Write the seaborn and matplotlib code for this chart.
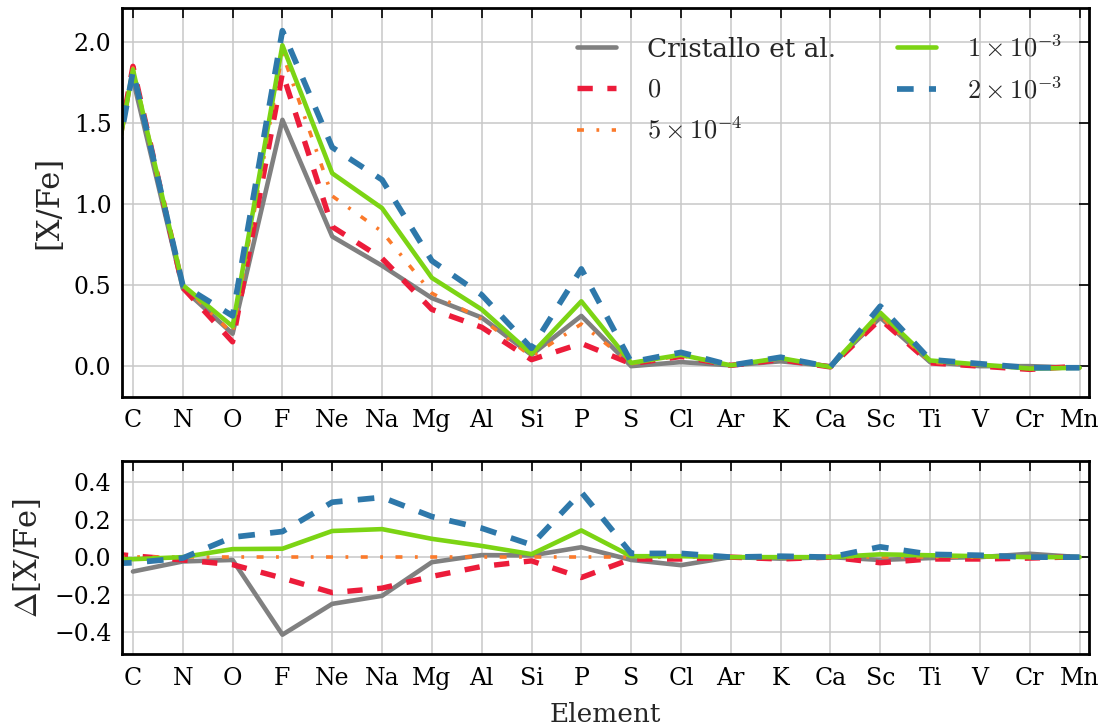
import numpy as np
import pandas as pd
import matplotlib
matplotlib.use("Agg")
import matplotlib.pyplot as plt
import seaborn as sns

# ---------------- data ----------------
elements = ["B", "C", "N", "O", "F", "Ne", "Na", "Mg", "Al", "Si", "P", "S",
            "Cl", "Ar", "K", "Ca", "Sc", "Ti", "V", "Cr", "Mn"]
tick_labels = elements[1:]

labels = ["Cristallo et al.", r"$0$", r"$5\times10^{-4}$",
          r"$1\times10^{-3}$", r"$2\times10^{-3}$"]

# [X/Fe]
xfe_cristallo = [np.nan, 1.77, 0.48, 0.20, 1.52, 0.80, 0.62, 0.42, 0.30, 0.07, 0.31,
                 0.00, 0.025, 0.005, 0.03, 0.00, 0.30, 0.025, 0.00, 0.00, -0.01]
xfe_0 = [0.15, 1.85, 0.485, 0.15, 1.81, 0.86, 0.665, 0.35, 0.24, 0.04, 0.14,
         0.015, 0.06, 0.005, 0.04, -0.005, 0.29, 0.02, 0.00, -0.02, 0.00]
xfe_5e4 = [0.15, 1.84, 0.50, 0.20, 1.93, 1.05, 0.83, 0.45, 0.29, 0.06, 0.26,
           0.015, 0.065, 0.005, 0.045, -0.005, 0.31, 0.025, 0.005, -0.015, -0.005]
xfe_1e3 = [0.15, 1.83, 0.50, 0.245, 1.98, 1.19, 0.975, 0.545, 0.35, 0.075, 0.40,
           0.02, 0.07, 0.005, 0.05, -0.005, 0.33, 0.035, 0.01, -0.015, -0.01]
xfe_2e3 = [0.15, 1.82, 0.50, 0.31, 2.07, 1.35, 1.15, 0.65, 0.44, 0.11, 0.60,
           0.025, 0.085, 0.005, 0.055, -0.005, 0.37, 0.04, 0.015, -0.01, -0.01]

# Delta [X/Fe]
d_cristallo = [np.nan, -0.077, -0.023, -0.015, -0.415, -0.25, -0.207, -0.027, 0.011, 0.009, 0.053,
               -0.015, -0.043, 0.0, -0.008, 0.0, -0.015, -0.005, 0.0, 0.018, 0.0]
d_0 = [0.03, 0.007, -0.015, -0.04, -0.112, -0.19, -0.166, -0.103, -0.05, -0.02, -0.109,
       -0.01, -0.01, 0.0, -0.01, 0.0, -0.03, -0.01, -0.01, -0.005, 0.002]
d_5e4 = [0.0, 0.0, 0.0, 0.0, 0.0, 0.0, 0.0, 0.0, 0.0, 0.0, 0.0,
         0.0, 0.0, 0.0, 0.0, 0.0, 0.0, 0.0, 0.0, 0.0, 0.0]
d_1e3 = [-0.01, -0.011, 0.0, 0.043, 0.045, 0.14, 0.15, 0.098, 0.06, 0.016, 0.143,
         0.005, 0.005, 0.0, 0.0, 0.0, 0.015, 0.01, 0.005, 0.0, 0.0]
d_2e3 = [-0.04, -0.03, -0.005, 0.107, 0.137, 0.294, 0.32, 0.217, 0.155, 0.066, 0.348,
         0.02, 0.02, 0.0, 0.005, 0.0, 0.055, 0.015, 0.01, 0.0, 0.0]

top_series = [xfe_cristallo, xfe_0, xfe_5e4, xfe_1e3, xfe_2e3]
bot_series = [d_cristallo, d_0, d_5e4, d_1e3, d_2e3]

# ---------------- style ----------------
sns.set_style("white")
plt.rcParams.update({
    "font.family": ["DejaVu Serif"],
    "mathtext.fontset": "cm",
    "font.size": 17,
    "lines.scale_dashes": False,
    "axes.linewidth": 2.0,
    "axes.edgecolor": "black",
    "xtick.direction": "in",
    "ytick.direction": "in",
    "xtick.top": True,
    "ytick.right": True,
    "xtick.major.size": 7,
    "ytick.major.size": 7,
    "xtick.major.width": 1.2,
    "ytick.major.width": 1.2,
    "xtick.labelsize": 17,
    "ytick.labelsize": 17,
    "xtick.color": "black",
    "ytick.color": "black",
})

colors = ["#808080", "#ec1c3a", "#fb7a2b", "#7cd414", "#2e78aa"]
widths = [3.3, 3.9, 2.6, 3.3, 4.1]
styles = ["-", (0, (11.0, 10.5)), (0, (5.0, 9.0, 2.0, 9.0)), "-", (0, (12.0, 11.0))]

x = np.arange(len(elements)) - 1

fig = plt.figure(figsize=(11.14, 7.27), dpi=100)
ax1 = fig.add_axes([0.1095, 0.454, 0.8685, 0.535])
ax2 = fig.add_axes([0.1095, 0.100, 0.8685, 0.266])

for ax, series in ((ax1, top_series), (ax2, bot_series)):
    for vals, lab, c, lw, ls in zip(series, labels, colors, widths, styles):
        df = pd.DataFrame({"x": x, "y": vals}).dropna()
        sns.lineplot(data=df, x="x", y="y", ax=ax, color=c, lw=lw,
                     linestyle=ls, label=lab, estimator=None, sort=False)
    ax.set_xticks(np.arange(len(tick_labels)))
    ax.set_xticklabels(tick_labels)
    ax.set_xlim(-0.22, 19.2)
    ax.grid(True, color="#c8c8c8", lw=1.1)
    ax.set_axisbelow(True)
    ax.tick_params(axis="x", which="major", pad=9)
    ax.tick_params(axis="y", which="major", pad=7.5)

ax1.set_ylim(-0.19, 2.21)
ax1.set_yticks([0.0, 0.5, 1.0, 1.5, 2.0])
ax1.set_ylabel("[X/Fe]", fontsize=22, labelpad=7)
ax1.set_xlabel("")

ax2.set_ylim(-0.52, 0.515)
ax2.set_yticks([-0.4, -0.2, 0.0, 0.2, 0.4])
ax2.set_ylabel(r"$\Delta$[X/Fe]", fontsize=22, labelpad=7)
ax2.set_xlabel("Element", fontsize=19, labelpad=9)
ax2.legend_.remove()

ax1.legend(ncol=2, loc="upper right", frameon=False, fontsize=19,
           handlelength=1.5, handletextpad=1.17, columnspacing=2.3,
           labelspacing=0.58, borderaxespad=0.62)

fig.savefig("out.png", dpi=100)
